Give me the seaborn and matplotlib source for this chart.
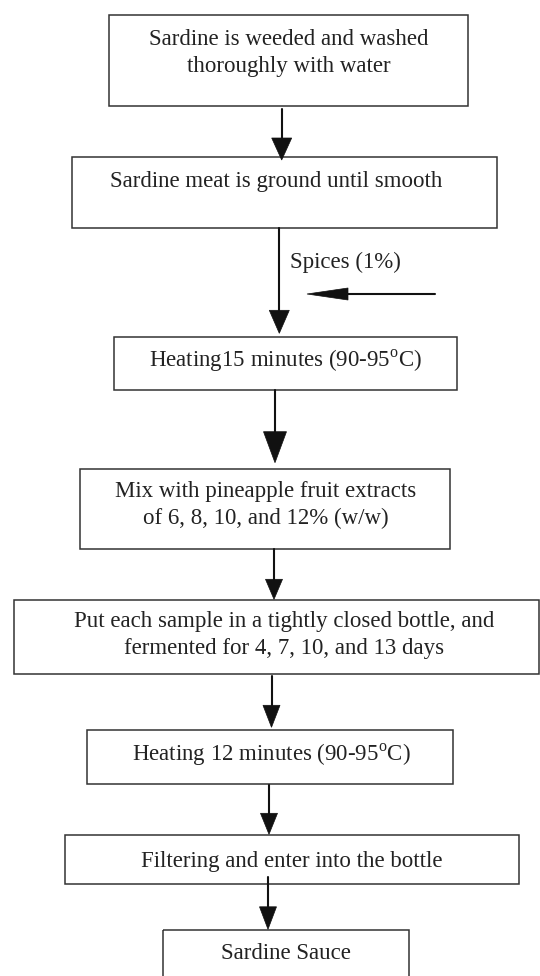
import matplotlib
matplotlib.use("Agg")
import matplotlib.pyplot as plt
from matplotlib.patches import Rectangle, Polygon
import seaborn as sns
import pandas as pd

sns.set_theme(style="white")
plt.rcParams['font.family'] = ['Liberation Serif', 'DejaVu Serif']
plt.rcParams['mathtext.fontset'] = 'custom'
plt.rcParams['mathtext.rm'] = 'Liberation Serif'

# ---- content ----
step_lines = [
    ["Sardine is weeded and washed", "thoroughly with water"],
    ["Sardine meat is ground until smooth"],
    ["Heating15 minutes (90-95$^{\\rm o}$C)"],
    ["Mix with pineapple fruit extracts", "of 6, 8, 10, and 12% (w/w)"],
    ["Put each sample in a tightly closed bottle, and", "fermented for 4, 7, 10, and 13 days"],
    ["Heating 12 minutes (90-95$^{\\rm o}$C)"],
    ["Filtering and enter into the bottle"],
    ["Sardine Sauce"],
]
side_label = "Spices (1%)"

# ---- layout (pixels, y downward) ----
box_x0 = [108.5, 72, 114, 80, 13.5, 87, 65, 162.5]
box_x1 = [468, 497, 457, 450, 539, 453, 519, 409]
box_y0 = [15.3, 157, 337, 468.5, 600, 729.5, 835, 930]
box_y1 = [106, 228, 390, 548.5, 673.5, 784, 884, 995]
text_x = [289, 276, 285, 266, 284, 271, 292, 286]
text_y = [[37.3, 64.3], [179.3], [359.3], [489.3, 516.7], [620, 646.7], [753.3], [860], [951.7]]
text_dy = 2.0

arr_x = [281.7, 279.3, 275, 274, 271.5, 269, 268]
arr_y0 = [108.7, 228, 390, 548.5, 676, 785, 877.3]
arr_y1 = [160, 333.3, 462.7, 599.3, 727.3, 834.3, 929.3]
arr_hw = [20, 20, 23, 17, 17, 17, 17]
arr_hl = [22, 23, 31, 20, 22, 21, 22.5]

W, H = 540, 976
fig = plt.figure(figsize=(W / 100, H / 100), dpi=100)
ax = fig.add_axes([0, 0, 1, 1])
ax.set_xlim(0, W)
ax.set_ylim(H, 0)
ax.axis("off")

fs = 16.5
tc = "#222222"

for i, lines in enumerate(step_lines):
    ax.add_patch(Rectangle((box_x0[i], box_y0[i]), box_x1[i] - box_x0[i], box_y1[i] - box_y0[i],
                           fill=False, edgecolor="#333333", linewidth=1.1))
    for ln, ty in zip(lines, text_y[i]):
        ax.text(text_x[i], ty + text_dy, ln, ha="center", va="center", fontsize=fs, color=tc)

# connectors
for i in range(len(arr_x)):
    df = pd.DataFrame({"x": [arr_x[i], arr_x[i]], "y": [arr_y0[i], arr_y1[i] - arr_hl[i] + 2]})
    sns.lineplot(data=df, x="x", y="y", ax=ax, color="#111111", linewidth=1.5, sort=False, estimator=None)
    ax.add_patch(Polygon([[arr_x[i] - arr_hw[i] / 2, arr_y1[i] - arr_hl[i]],
                          [arr_x[i] + arr_hw[i] / 2, arr_y1[i] - arr_hl[i]],
                          [arr_x[i], arr_y1[i]]], closed=True, facecolor="#111111",
                         edgecolor="#111111", linewidth=0.5))

# side input arrow
hx0, hx1, hy = 435, 307, 294
df = pd.DataFrame({"x": [hx0, hx1 + 30], "y": [hy, hy]})
sns.lineplot(data=df, x="x", y="y", ax=ax, color="#111111", linewidth=1.5, sort=False, estimator=None)
ax.add_patch(Polygon([[hx1, hy], [hx1 + 41, hy - 6], [hx1 + 41, hy + 6]], closed=True,
                     facecolor="#111111", edgecolor="#111111", linewidth=0.5))
ax.text(290, 260 + text_dy, side_label, ha="left", va="center", fontsize=fs, color=tc)

ax.set_xlim(0, W)
ax.set_ylim(H, 0)
ax.set_xlabel("")
ax.set_ylabel("")
fig.savefig("out.png", dpi=100)
